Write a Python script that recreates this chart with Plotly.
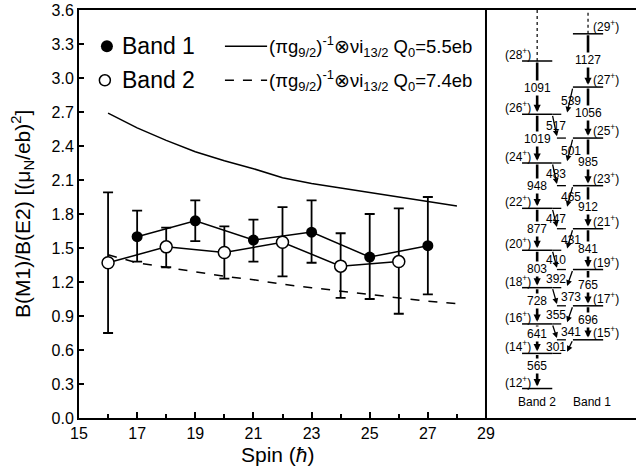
import plotly.graph_objects as go

# ---------------- data ----------------
spin_b1 = [17, 19, 21, 23, 25, 27]
ratio_b1 = [1.60, 1.74, 1.57, 1.64, 1.42, 1.52]
err_top_b1 = [1.83, 1.92, 1.75, 1.92, 1.80, 1.95]
err_bot_b1 = [1.38, 1.56, 1.38, 1.37, 1.05, 1.09]

spin_b2 = [16, 18, 20, 22, 24, 26]
ratio_b2 = [1.37, 1.51, 1.46, 1.55, 1.34, 1.38]
err_top_b2 = [1.99, 1.68, 1.69, 1.86, 1.63, 1.85]
err_bot_b2 = [0.75, 1.33, 1.23, 1.25, 1.06, 0.92]

theory_spin = [16, 17, 18, 19, 20, 21, 22, 23, 24, 25, 26, 27, 28]
theory_q55 = [2.69, 2.56, 2.45, 2.35, 2.27, 2.20, 2.12, 2.07, 2.03, 1.99, 1.95, 1.91, 1.87]
theory_q74 = [1.44, 1.37, 1.33, 1.29, 1.25, 1.22, 1.18, 1.15, 1.12, 1.09, 1.06, 1.03, 1.01]

x_ticks = [15, 17, 19, 21, 23, 25, 27, 29]
y_ticks = [0.0, 0.3, 0.6, 0.9, 1.2, 1.5, 1.8, 2.1, 2.4, 2.7, 3.0, 3.3, 3.6]

# level scheme (schematic level heights in plot units)
band2_spins = [28, 26, 24, 22, 20, 18, 16, 14, 12]
band2_levels = [3.15, 2.68, 2.25, 1.85, 1.48, 1.15, 0.83, 0.57, 0.26]
band1_spins = [29, 27, 25, 23, 21, 19, 17, 15]
band1_levels = [3.39, 2.92, 2.47, 2.05, 1.67, 1.31, 0.99, 0.69]
band2_e2 = [1091, 1019, 948, 877, 803, 728, 641, 565]
band1_e2 = [1127, 1056, 985, 912, 841, 765, 696]
m1_energies = [539, 517, 501, 483, 465, 447, 431, 410, 392, 373, 355, 341, 301]  # 27->26 ... 15->14

FONT = "Liberation Sans, Arial, Helvetica, sans-serif"

fig = go.Figure()

# theory curves
fig.add_trace(go.Scatter(x=theory_spin, y=theory_q55, mode="lines",
                         line=dict(color="black", width=1.5), showlegend=False))
fig.add_trace(go.Scatter(x=theory_spin, y=theory_q74, mode="lines",
                         line=dict(color="black", width=1.5, dash="dash"), showlegend=False))

# band 1
fig.add_trace(go.Scatter(
    x=spin_b1, y=ratio_b1, mode="lines+markers",
    line=dict(color="black", width=1.5),
    marker=dict(symbol="circle", size=11, color="black"),
    error_y=dict(type="data", symmetric=False,
                 array=[t - v for t, v in zip(err_top_b1, ratio_b1)],
                 arrayminus=[v - b for v, b in zip(ratio_b1, err_bot_b1)],
                 color="black", thickness=1.8, width=5),
    showlegend=False))
# band 2
fig.add_trace(go.Scatter(
    x=spin_b2, y=ratio_b2, mode="lines+markers",
    line=dict(color="black", width=1.5),
    marker=dict(symbol="circle", size=12, color="white", line=dict(color="black", width=1.5)),
    error_y=dict(type="data", symmetric=False,
                 array=[t - v for t, v in zip(err_top_b2, ratio_b2)],
                 arrayminus=[v - b for v, b in zip(ratio_b2, err_bot_b2)],
                 color="black", thickness=1.8, width=5),
    showlegend=False))

# ---------------- manual legend ----------------
fig.add_trace(go.Scatter(x=[15.96], y=[3.28], mode="markers",
                         marker=dict(symbol="circle", size=12, color="black"),
                         showlegend=False, hoverinfo="skip"))
fig.add_trace(go.Scatter(x=[15.89], y=[2.98], mode="markers",
                         marker=dict(symbol="circle", size=11, color="white",
                                     line=dict(color="black", width=1.5)),
                         showlegend=False, hoverinfo="skip"))
fig.add_trace(go.Scatter(x=[20.02, 21.47], y=[3.28, 3.28], mode="lines",
                         line=dict(color="black", width=1.3), showlegend=False, hoverinfo="skip"))
fig.add_trace(go.Scatter(x=[20.02, 21.47], y=[2.98, 2.98], mode="lines",
                         line=dict(color="black", width=1.3, dash="dash"), showlegend=False, hoverinfo="skip"))

annotations = []
for txt, yy in [("Band 1", 3.28), ("Band 2", 2.98)]:
    annotations.append(dict(x=16.42, y=yy, xref="x", yref="y", text=txt, showarrow=False,
                            xanchor="left", yanchor="middle", font=dict(size=23, color="black", family=FONT)))
for q, yy in [("5.5", 3.28), ("7.4", 2.98)]:
    annotations.append(dict(
        x=21.45, y=yy, xref="x", yref="y",
        text="(πg<sub>9/2</sub>)<sup>-1</sup>⊗νi<sub>13/2</sub> Q<sub>0</sub>=" + q + "eb",
        showarrow=False, xanchor="left", yanchor="middle",
        font=dict(size=18.5, color="black", family=FONT)))

# ---------------- level scheme ----------------
B2_X = 30.76
B1_X = 32.51
HALF = 0.52
B2_R = B2_X + HALF
B1_L = B1_X - HALF
EXT_B2 = 31.79   # dashed extension of band-2 levels toward band 1
EXT_B1 = 31.44   # dashed extension of band-1 levels toward band 2

shapes = [dict(type="line", x0=29, x1=29, y0=0, y1=3.6, xref="x", yref="y",
               line=dict(color="black", width=2))]

levels = {}
for s, lv in zip(band2_spins, band2_levels):
    levels[s] = (2, lv)
    shapes.append(dict(type="line", x0=B2_X - HALF, x1=B2_R, y0=lv, y1=lv, xref="x", yref="y",
                       line=dict(color="black", width=1.5)))
    annotations.append(dict(x=B2_X - 0.17, y=lv, xref="x", yref="y", yshift=7,
                            text="(%d<sup>+</sup>)" % s, showarrow=False,
                            xanchor="right", yanchor="middle", borderpad=0,
                            font=dict(size=12, color="black", family=FONT)))
for s, lv in zip(band1_spins, band1_levels):
    levels[s] = (1, lv)
    shapes.append(dict(type="line", x0=B1_L, x1=B1_X + HALF, y0=lv, y1=lv, xref="x", yref="y",
                       line=dict(color="black", width=1.5)))
    annotations.append(dict(x=B1_X + 0.14, y=lv, xref="x", yref="y", yshift=8,
                            text="(%d<sup>+</sup>)" % s, showarrow=False,
                            xanchor="left", yanchor="middle", borderpad=0,
                            font=dict(size=12, color="black", family=FONT)))

# dotted lines above the top levels
shapes.append(dict(type="line", x0=B2_X, x1=B2_X, y0=band2_levels[0], y1=3.6, xref="x", yref="y",
                   line=dict(color="black", width=1.2, dash="dot")))
shapes.append(dict(type="line", x0=B1_X, x1=B1_X, y0=band1_levels[0], y1=3.6, xref="x", yref="y",
                   line=dict(color="black", width=1.2, dash="dot")))

# E2 transitions
e2_labels = []
for col, lvls, ens, shift in [(B2_X, band2_levels, band2_e2, 5), (B1_X, band1_levels, band1_e2, 3)]:
    for i, en in enumerate(ens):
        up, lo = lvls[i], lvls[i + 1]
        annotations.append(dict(x=col, y=lo + 0.02, ax=col, ay=up, xref="x", yref="y",
                                axref="x", ayref="y", text="", showarrow=True,
                                arrowhead=2, arrowsize=0.55, arrowwidth=2.6,
                                arrowcolor="black", standoff=0, startstandoff=0))
        e2_labels.append(dict(x=col, y=(up + lo) / 2, xref="x", yref="y", text=str(en),
                              yshift=shift if i >= 5 else 0,
                              showarrow=False, bgcolor="white", borderpad=0,
                              font=dict(size=12, color="black", family=FONT)))

# M1 transitions
for i, en in enumerate(m1_energies):
    s_up = 27 - i
    b_up, y_up = levels[s_up]
    b_lo, y_lo = levels[s_up - 1]
    if b_up == 1:
        tail_x, head_x = B1_L, EXT_B2
        shapes.append(dict(type="line", x0=B2_R, x1=EXT_B2, y0=y_lo, y1=y_lo, xref="x", yref="y",
                           line=dict(color="black", width=1.3, dash="dash")))
    else:
        tail_x, head_x = B2_R, EXT_B1
        shapes.append(dict(type="line", x0=EXT_B1, x1=B1_L, y0=y_lo, y1=y_lo, xref="x", yref="y",
                           line=dict(color="black", width=1.3, dash="dash")))
    annotations.append(dict(x=head_x, y=y_lo + 0.015, ax=tail_x, ay=y_up, xref="x", yref="y",
                            axref="x", ayref="y", text="", showarrow=True,
                            arrowhead=2, arrowsize=0.9, arrowwidth=1.3,
                            arrowcolor="black", standoff=0, startstandoff=0))
    right_side = (i % 2 == 0) != (i >= 8)
    lx = 31.94 if right_side else 31.42
    e2_labels.append(dict(x=lx, y=(y_up + y_lo) / 2, xref="x", yref="y", text=str(en),
                          showarrow=False, borderpad=0,
                          font=dict(size=12, color="black", family=FONT)))

annotations.extend(e2_labels)
annotations.append(dict(x=B2_X, y=0.14, xref="x", yref="y", text="Band 2", showarrow=False,
                        font=dict(size=12, color="black", family=FONT)))
annotations.append(dict(x=B1_X + 0.15, y=0.14, xref="x", yref="y", text="Band 1", showarrow=False,
                        font=dict(size=12, color="black", family=FONT)))

# axis titles
annotations.append(dict(x=21.85, y=0, xref="x", yref="paper", yshift=-36, text="Spin (<i>ħ</i>)",
                        showarrow=False, yanchor="middle",
                        font=dict(size=21, color="black", family=FONT)))
annotations.append(dict(x=0, y=0.5, xref="paper", yref="paper", xshift=-57, textangle=-90,
                        text="B(M1)/B(E2) [(μ<sub>N</sub>/eb)<sup>2</sup>]", showarrow=False,
                        xanchor="center", yanchor="middle",
                        font=dict(size=21, color="black", family=FONT)))

fig.update_layout(
    width=637, height=474,
    margin=dict(l=79, r=1, t=10, b=56),
    paper_bgcolor="white", plot_bgcolor="white",
    font=dict(family=FONT, color="black", size=16),
    showlegend=False,
    shapes=shapes,
    annotations=annotations,
    xaxis=dict(range=[15, 34.16], tickvals=x_ticks, ticktext=[str(v) for v in x_ticks],
               ticks="inside", ticklen=6, tickwidth=1.5, tickcolor="black",
               minor=dict(tickvals=[16, 18, 20, 22, 24, 26, 28], ticks="inside", ticklen=4,
                          tickwidth=1.5, tickcolor="black"),
               showline=True, linecolor="black", linewidth=2, mirror=True,
               showgrid=False, zeroline=False, tickfont=dict(size=16)),
    yaxis=dict(range=[0, 3.6], tickvals=y_ticks, ticktext=["%.1f" % v for v in y_ticks],
               ticks="inside", ticklen=5, tickwidth=1.5, tickcolor="black",
               showline=True, linecolor="black", linewidth=2, mirror=False,
               showgrid=False, zeroline=False, tickfont=dict(size=16)),
)

fig.write_html("out.html", config={"displayModeBar": False},
               post_script="document.body.style.margin='0';")
